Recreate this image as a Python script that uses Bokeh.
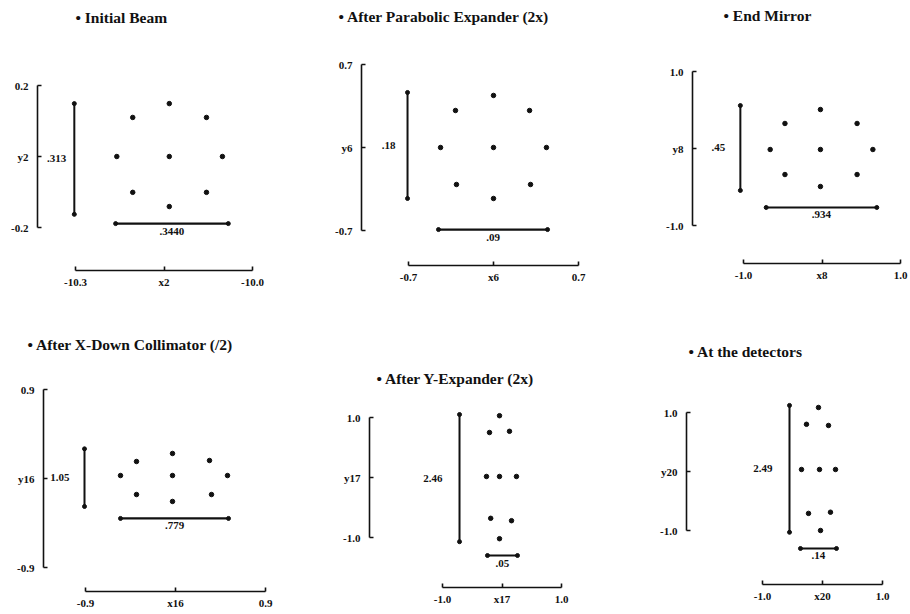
from bokeh.plotting import figure
from bokeh.layouts import row, column
from bokeh.models import FixedTicker, Range1d
from bokeh.embed import file_html
from bokeh.resources import INLINE
from bokeh.core.properties import value

# ---------------- data ----------------
titles = ["\u2022 Initial Beam", "\u2022 After Parabolic Expander (2x)", "\u2022 End Mirror",
          "\u2022  After X-Down Collimator (/2)", "\u2022 After Y-Expander (2x)", "\u2022 At the detectors"]

x_lims = [(-10.3, -10.0), (-0.7, 0.7), (-1.0, 1.0), (-0.9, 0.9), (-1.0, 1.0), (-1.0, 1.0)]
y_lims = [(-0.2, 0.2), (-0.7, 0.7), (-1.0, 1.0), (-0.9, 0.9), (-1.0, 1.0), (-1.0, 1.0)]

x_tick_labels = [["-10.3", "x2", "-10.0"], ["-0.7", "x6", "0.7"], ["-1.0", "x8", "1.0"],
                 ["-0.9", "x16", "0.9"], ["-1.0", "x17", "1.0"], ["-1.0", "x20", "1.0"]]
y_tick_labels = [["-0.2", "y2", "0.2"], ["-0.7", "y6", "0.7"], ["-1.0", "y8", "1.0"],
                 ["-0.9", "y16", "0.9"], ["-1.0", "y17", "1.0"], ["-1.0", "y20", "1.0"]]

# spot positions: centre, top, bottom, left, right, top-left, top-right, bottom-left, bottom-right
spot_x_1 = [-10.141, -10.141, -10.141, -10.230, -10.051, -10.203, -10.078, -10.203, -10.078]
spot_y_1 = [0.0, 0.149, -0.141, 0.0, 0.0, 0.110, 0.110, -0.101, -0.101]
spot_x_2 = [0.0, 0.0, 0.0, -0.436, 0.436, -0.313, 0.297, -0.305, 0.305]
spot_y_2 = [0.0, 0.439, -0.430, 0.0, 0.0, 0.312, 0.312, -0.312, -0.312]
spot_x_3 = [-0.02, -0.02, -0.02, -0.66, 0.648, -0.472, 0.447, -0.472, 0.447]
spot_y_3 = [-0.013, 0.506, -0.494, -0.013, -0.013, 0.325, 0.325, -0.338, -0.338]
spot_x_4 = [-0.03, -0.03, -0.03, -0.55, 0.52, -0.39, 0.34, -0.39, 0.36]
spot_y_4 = [0.03, 0.253, -0.232, 0.03, 0.03, 0.172, 0.182, -0.162, -0.162]
spot_x_5 = [-0.042, -0.042, -0.042, -0.261, 0.243, -0.21, 0.126, -0.19, 0.16]
spot_y_5 = [0.017, 1.03, -1.02, 0.017, 0.017, 0.75, 0.77, -0.68, -0.72]
spot_x_6 = [-0.05, -0.067, -0.033, -0.35, 0.217, -0.267, 0.10, -0.233, 0.133]
spot_y_6 = [0.034, 1.085, -1.0, 0.034, 0.034, 0.80, 0.78, -0.71, -0.69]
spot_x = [spot_x_1, spot_x_2, spot_x_3, spot_x_4, spot_x_5, spot_x_6]
spot_y = [spot_y_1, spot_y_2, spot_y_3, spot_y_4, spot_y_5, spot_y_6]

# vertical extent bar: x, y0, y1, label
vbar_x = [-10.302, -0.708, -1.04, -0.91, -0.714, -0.55]
vbar_y0 = [-0.163, -0.430, -0.545, -0.283, -1.07, -1.03]
vbar_y1 = [0.149, 0.464, 0.558, 0.30, 1.05, 1.12]
vbar_labels = [".313", ".18", ".45", "1.05", "2.46", "2.49"]

# horizontal extent bar: y, x0, x1, label
hbar_y = [-0.189, -0.692, -0.766, -0.404, -1.3, -1.305]
hbar_x0 = [-10.232, -0.453, -0.711, -0.55, -0.244, -0.367]
hbar_x1 = [-10.041, 0.445, 0.698, 0.53, 0.26, 0.233]
hbar_labels = [".3440", ".09", ".934", ".779", ".05", ".14"]

# ---------------- layout (page pixels) ----------------
fig_boxes = [(0, 0, 318, 307), (318, 0, 312, 307), (630, 0, 280, 307),
             (0, 307, 318, 307), (318, 307, 312, 307), (630, 307, 280, 307)]
# y-axis x, y-axis top, y-axis bottom, x-axis y, x-axis left, x-axis right
axis_px = [(37, 85, 227, 270, 75, 252), (361, 64, 230, 265, 408, 578), (692, 71, 225, 263, 743, 900),
           (43, 389, 567, 591, 85, 265), (369, 417, 537, 587, 442, 561), (686, 412, 530, 584, 762, 882)]
title_px = [(75, 17), (338, 16), (723, 15), (27, 344), (376, 378), (688, 351)]
vlab_gap = [8, 12, 15, 15, 17, 17]

FONT = "Liberation Serif"
INK = "#111111"


def make_panel(i):
    fx0, fy0, fw, fh = fig_boxes[i]
    yax_x, yax_top, yax_bot, xax_y, xax_l, xax_r = axis_px[i]
    tx, ty = title_px[i]
    xmin, xmax = x_lims[i]
    ymin, ymax = y_lims[i]
    ft = ty + 8
    fb = xax_y
    fl, fr = yax_x, fx0 + fw - 6
    sx = (xmax - xmin) / (xax_r - xax_l)
    sy = (ymax - ymin) / (yax_bot - yax_top)
    x_start = xmin - (xax_l - fl) * sx
    x_end = xmin + (fr - xax_l) * sx
    y_start = ymin - (fb - yax_bot) * sy
    y_end = ymax + (yax_top - ft) * sy

    p = figure(width=fw, height=fh, x_range=Range1d(x_start, x_end), y_range=Range1d(y_start, y_end),
               output_backend="svg", toolbar_location=None, title=titles[i],
               min_border_left=fl - fx0, min_border_right=fx0 + fw - fr,
               min_border_top=ft - fy0, min_border_bottom=fy0 + fh - fb)
    p.grid.visible = False
    p.outline_line_color = None
    p.background_fill_color = "white"
    p.border_fill_color = "white"

    p.title.text_font = FONT
    p.title.text_font_size = "15.5px"
    p.title.text_font_style = "bold"
    p.title.text_color = INK
    p.title.align = "left"
    p.title.offset = tx - fl
    p.title.standoff = 0

    xmid = (xmin + xmax) / 2
    ymid = (ymin + ymax) / 2
    for ax, lo, mid, hi, labs in ((p.xaxis[0], xmin, xmid, xmax, x_tick_labels[i]),
                                  (p.yaxis[0], ymin, ymid, ymax, y_tick_labels[i])):
        ax.bounds = (lo, hi)
        ax.ticker = FixedTicker(ticks=[lo, mid, hi], minor_ticks=[])
        ax.major_label_overrides = {lo: labs[0], mid: labs[1], hi: labs[2]}
        ax.axis_line_width = 1.6
        ax.axis_line_color = INK
        ax.major_tick_in = 4
        ax.major_tick_out = 0
        ax.major_tick_line_width = 1.6
        ax.major_tick_line_color = INK
        ax.minor_tick_line_color = None
        ax.major_label_text_font = FONT
        ax.major_label_text_font_style = "bold"
        ax.major_label_text_font_size = "11px"
        ax.major_label_text_color = INK
    p.xaxis[0].major_label_standoff = 5
    p.yaxis[0].major_label_standoff = 9

    # spots
    p.scatter(spot_x[i], spot_y[i], size=4.5, marker="circle", color=INK)

    # vertical extent bar
    vx = vbar_x[i]
    p.segment(x0=[vx], y0=[vbar_y0[i]], x1=[vx], y1=[vbar_y1[i]], line_width=2, line_color=INK)
    p.scatter([vx, vx], [vbar_y0[i], vbar_y1[i]], size=4, marker="circle", color=INK)
    p.text(x=[vx], y=[(vbar_y0[i] + vbar_y1[i]) / 2], text=[vbar_labels[i]], x_offset=-vlab_gap[i],
           text_align="right", text_baseline="middle", text_font=value(FONT), text_font_style="bold",
           text_font_size="11px", text_color=INK)

    # horizontal extent bar
    hy = hbar_y[i]
    p.segment(x0=[hbar_x0[i]], y0=[hy], x1=[hbar_x1[i]], y1=[hy], line_width=2.2, line_color=INK)
    p.scatter([hbar_x0[i], hbar_x1[i]], [hy, hy], size=4, marker="circle", color=INK)
    p.text(x=[(hbar_x0[i] + hbar_x1[i]) / 2], y=[hy], text=[hbar_labels[i]], y_offset=4,
           text_align="center", text_baseline="top", text_font=value(FONT), text_font_style="bold",
           text_font_size="11px", text_color=INK)
    return p


panels = [make_panel(i) for i in range(6)]
# wrap each plot on its own so that neighbouring frames are not forced into alignment
cells = [column(p, spacing=0) for p in panels]
layout = column(row(*cells[:3], spacing=0), row(*cells[3:], spacing=0), spacing=0)

open("out.html", "w").write(file_html(layout, INLINE))
